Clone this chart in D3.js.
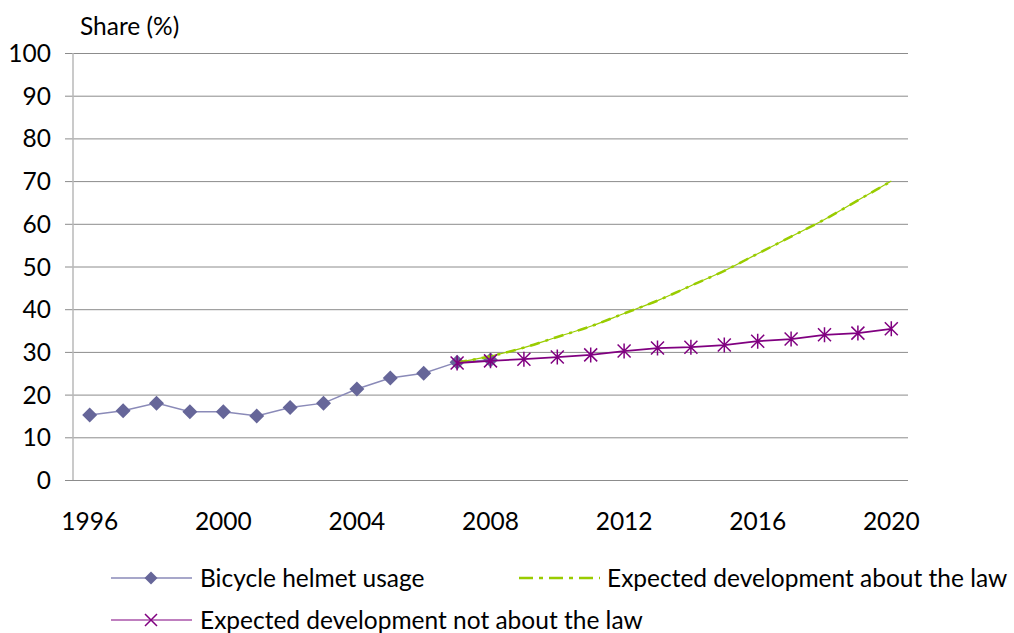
<!DOCTYPE html>
<html><head><meta charset="utf-8">
<script src="https://cdn.jsdelivr.net/npm/d3@7"></script>
<style>body{margin:0;background:#fff;} text{font-family:Lato,"Liberation Sans",sans-serif;fill:#000;}</style>
</head><body><svg id="c" width="1014" height="633"></svg>
<script>
const years = d3.range(1996, 2021);
const xTickLabels = [1996, 2000, 2004, 2008, 2012, 2016, 2020];
const yTicks = [0,10,20,30,40,50,60,70,80,90,100];
const helmetYears = [1996,1997,1998,1999,2000,2001,2002,2003,2004,2005,2006,2007,2008];
const helmetValues = [15.2,16.2,18,16,16,15,17,18,21.3,23.9,25,27.6,28.1];
const projYears = [2007,2008,2009,2010,2011,2012,2013,2014,2015,2016,2017,2018,2019,2020];
const withLawValues = [27.5,29,31,33.5,36,39,42,45.5,49,53,57,61,65.5,70];
const withoutLawValues = [27.4,27.9,28.3,28.8,29.3,30.2,30.9,31.1,31.6,32.5,33,34,34.4,35.4];
const seriesNames = ["Bicycle helmet usage","Expected development about the law","Expected development not about the law"];

(function(){
const FS = 24.5;
const svg = d3.select("#c");
const pl = 73, pr = 908, pt = 53, pb = 480;
const x = d3.scaleBand().domain(years).range([pl, pr]);
const xc = v => x(v) + x.bandwidth()/2;
const y = d3.scaleLinear().domain([0,100]).range([pb, pt]);

const yAxis = d3.axisLeft(y).tickValues(yTicks).tickSize(-(pr-pl)).tickPadding(14).tickFormat(d3.format("d"));
const gy = svg.append("g").attr("transform",`translate(${pl},0)`).call(yAxis);
gy.select(".domain").remove();
gy.selectAll(".tick line").attr("stroke","#8c8c8c").attr("x1",-8);
gy.selectAll(".tick text").attr("font-size",FS).attr("dy","0.35em").attr("x",-22);
svg.append("line").attr("x1",pl).attr("x2",pl).attr("y1",pt).attr("y2",pb).attr("stroke","#b8b8b8").attr("stroke-width",1.5);

const xAxis = d3.axisBottom(x).tickValues(xTickLabels).tickSize(0).tickPadding(33);
const gx = svg.append("g").attr("transform",`translate(0,${pb})`).call(xAxis);
gx.select(".domain").remove();
gx.selectAll(".tick text").attr("font-size",FS);

svg.append("text").attr("x",80).attr("y",35).attr("font-size",FS).text("Share (%)");

const line = d3.line().x(d=>xc(d[0])).y(d=>y(d[1]));
const curve = d3.line().curve(d3.curveMonotoneX).x(d=>xc(d[0])).y(d=>y(d[1]));
const helmet = helmetYears.map((yr,i)=>[yr,helmetValues[i]]);
const withLaw = projYears.map((yr,i)=>[yr,withLawValues[i]]);
const withoutLaw = projYears.map((yr,i)=>[yr,withoutLawValues[i]]);

const helmetLine = "#8a8ab8", helmetMark = "#666699", green = "#99cc00", purple = "#800080";

svg.append("path").attr("d",line(helmet)).attr("fill","none").attr("stroke",helmetLine).attr("stroke-width",1.5);
const diamond = (g, cx, cy, r) => g.append("path").attr("d",`M${cx},${cy-r}L${cx+r},${cy}L${cx},${cy+r}L${cx-r},${cy}Z`).attr("fill",helmetMark);
helmet.forEach(d=>diamond(svg, xc(d[0]), y(d[1]), 7.5));

svg.append("path").attr("d",curve(withLaw)).attr("fill","none").attr("stroke",green).attr("stroke-width",1.2);
svg.append("path").attr("d",curve(withLaw)).attr("fill","none").attr("stroke",green).attr("stroke-width",2.5).attr("stroke-dasharray","10,6,3,6");

svg.append("path").attr("d",line(withoutLaw)).attr("fill","none").attr("stroke",purple).attr("stroke-width",1.8);
const star = (g, cx, cy, r, vert) => {
  let d = `M${cx-r},${cy-r}L${cx+r},${cy+r}M${cx-r},${cy+r}L${cx+r},${cy-r}`;
  if (vert) d += `M${cx},${cy-r-1}L${cx},${cy+r+1}`;
  g.append("path").attr("d",d).attr("stroke",purple).attr("stroke-width",1.5).attr("fill","none");
};
withoutLaw.forEach(d=>star(svg, xc(d[0]), y(d[1]), 6.5, true));

const lg = svg.append("g");
lg.append("line").attr("x1",111).attr("x2",192).attr("y1",578).attr("y2",578).attr("stroke",helmetLine).attr("stroke-width",1.5);
diamond(lg,151,578,6.5);
lg.append("text").attr("x",200).attr("y",578).attr("dy","0.35em").attr("font-size",FS).text(seriesNames[0]);
lg.append("line").attr("x1",519).attr("x2",600).attr("y1",578).attr("y2",578).attr("stroke",green).attr("stroke-width",2.5).attr("stroke-dasharray","14,6,4,6");
lg.append("text").attr("x",607).attr("y",578).attr("dy","0.35em").attr("font-size",FS).text(seriesNames[1]);
lg.append("line").attr("x1",111).attr("x2",192).attr("y1",620).attr("y2",620).attr("stroke",purple).attr("stroke-width",1.2);
star(lg,151,620,6,false);
lg.append("text").attr("x",200).attr("y",620).attr("dy","0.35em").attr("font-size",FS).text(seriesNames[2]);
})();
</script></body></html>
